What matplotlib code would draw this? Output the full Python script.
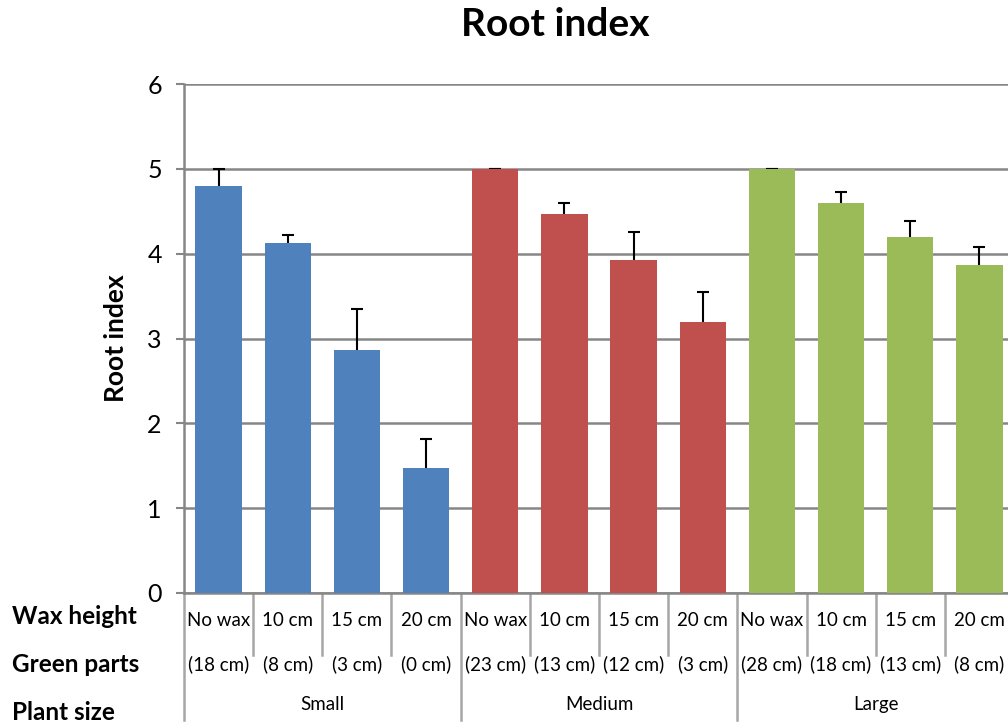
import matplotlib.pyplot as plt
from matplotlib.lines import Line2D

plt.rcParams["font.family"] = ["Lato", "DejaVu Sans"]

SIZES = ["Small", "Medium", "Large"]
WAX = ["No wax", "10 cm", "15 cm", "20 cm"]
GREEN = ["(18 cm)", "(8 cm)", "(3 cm)", "(0 cm)",
         "(23 cm)", "(13 cm)", "(12 cm)", "(3 cm)",
         "(28 cm)", "(18 cm)", "(13 cm)", "(8 cm)"]
VALUES = [4.80, 4.13, 2.87, 1.47,
          5.00, 4.47, 3.93, 3.20,
          5.00, 4.60, 4.20, 3.87]
ERRORS = [0.20, 0.09, 0.48, 0.35,
          0.00, 0.13, 0.33, 0.35,
          0.00, 0.13, 0.18, 0.21]
COLORS = ["#4F81BD", "#C0504D", "#9BBB59"]
GRID = "#868686"


def main():
    fig = plt.figure(figsize=(10.08, 7.22), dpi=100)
    ax = fig.add_axes([184 / 1008, 129 / 722, 830 / 1008, 509 / 722])

    n = len(VALUES)
    xs = list(range(n))
    cols = [COLORS[i // 4] for i in xs]
    ax.bar(xs, VALUES, width=0.67, color=cols, zorder=3)
    # symmetric bars drawn under the bars, so only the upper half shows
    ax.errorbar(xs, VALUES, yerr=ERRORS, fmt="none", ecolor="black",
                elinewidth=1.5, capsize=4, capthick=1.5, zorder=2)

    ax.set_xlim(-0.5, n - 0.5)
    ax.set_ylim(0, 6)
    ax.set_yticks(range(7))
    ax.tick_params(axis="y", labelsize=18, length=6, width=1.5, color=GRID, pad=10)
    ax.set_xticks([])
    ax.grid(axis="y", color=GRID, linewidth=1.8, zorder=0)
    for s in ["top", "right"]:
        ax.spines[s].set_visible(False)
    ax.spines["left"].set_color(GRID)
    ax.spines["left"].set_linewidth(1.8)
    ax.spines["bottom"].set_color(GRID)
    ax.spines["bottom"].set_linewidth(1.8)

    tr = ax.get_xaxis_transform()
    for i in xs:
        ax.text(i, -0.055, WAX[i % 4], transform=tr, ha="center", va="center", fontsize=13.5)
        ax.text(i, -0.139, GREEN[i], transform=tr, ha="center", va="center", fontsize=13.5)
    for g, name in enumerate(SIZES):
        ax.text(g * 4 + 1.5, -0.22, name, transform=tr, ha="center", va="center", fontsize=13.5)

    for b in range(n + 1):
        low = -0.25 if b % 4 == 0 else -0.122
        ax.add_line(Line2D([b - 0.5, b - 0.5], [0, low], transform=tr, color="#A6A6A6",
                           linewidth=1.8, clip_on=False))

    ax.set_ylabel("Root index", fontsize=19, fontweight="bold", labelpad=14)

    for y, lab in [(617, "Wax height"), (664, "Green parts"), (712, "Plant size")]:
        fig.text(12 / 1008, 1 - y / 722, lab, fontsize=17.5, fontweight="bold", va="center")
    fig.text(555 / 1008, 1 - 25 / 722, "Root index", fontsize=28, fontweight="bold",
             ha="center", va="center")

    fig.savefig("out.png", dpi=100)


if __name__ == "__main__":
    main()
